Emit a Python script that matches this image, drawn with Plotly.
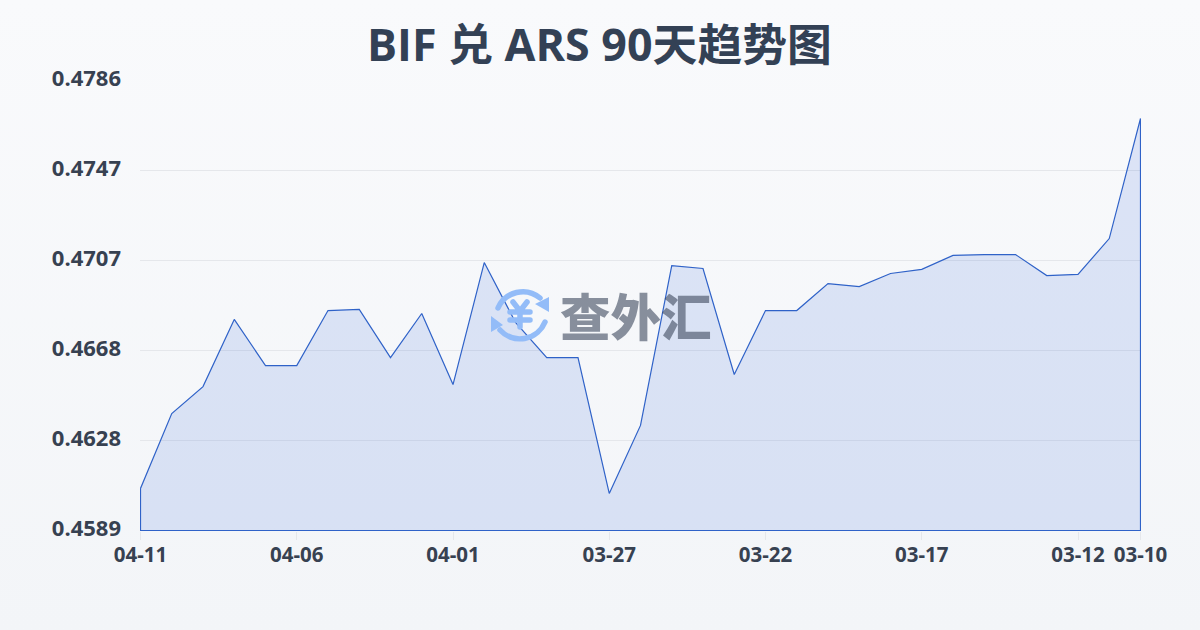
import base64
import plotly.graph_objects as go

dates = ["04-11","04-10","04-09","04-08","04-07","04-06","04-05","04-04","04-03","04-02","04-01",
         "03-31","03-30","03-29","03-28","03-27","03-26","03-25","03-24","03-23","03-22","03-21",
         "03-20","03-19","03-18","03-17","03-16","03-15","03-14","03-13","03-12","03-11","03-10"]
rates = [0.46074,0.46402,0.46520,0.46814,0.46612,0.46612,0.46853,0.46858,0.46647,0.46840,0.46529,
         0.47063,0.46801,0.46647,0.46647,0.46052,0.46350,0.47050,0.47037,0.46573,0.46853,0.46853,
         0.46971,0.46958,0.47015,0.47033,0.47094,0.47098,0.47098,0.47006,0.47011,0.47168,0.47694]
x_ticks = ["04-11","04-06","04-01","03-27","03-22","03-17","03-12","03-10"]
y_ticks = [0.4589,0.46284,0.46678,0.47072,0.47466,0.4786]
y_labels = ["0.4589","0.4628","0.4668","0.4707","0.4747","0.4786"]
title = "BIF 兑 ARS 90天趋势图"
watermark = "查外汇"

FONT = "'Open Sans','Noto Sans CJK SC',sans-serif"
INK = "#374151"
LINE = "#2f62c8"

bg_svg = ('<svg xmlns="http://www.w3.org/2000/svg" width="1200" height="630">'
          '<defs><linearGradient id="g" x1="0" y1="0" x2="0" y2="1">'
          '<stop offset="0" stop-color="#f9fafc"/><stop offset="1" stop-color="#f3f5f8"/>'
          '</linearGradient></defs><rect width="1200" height="630" fill="url(#g)"/></svg>')
logo_svg = ('<svg xmlns="http://www.w3.org/2000/svg" width="60" height="60" viewBox="0 0 60 60">'
            '<g fill="none" stroke="#93bcf8" stroke-width="5.5" stroke-linecap="round">'
            '<path d="M8 23 A27 27 0 0 1 50 13"/><path d="M55 37 A27 27 0 0 1 10 45"/>'
            '<path d="M23 17 L30 26 L37 17 M30 26 V42 M20 27 H40 M20 35 H40"/></g>'
            '<path d="M59 12 V27 L45 19 Z M1 31 V47 L13 40 Z" fill="#93bcf8"/></svg>')

def uri(s):
    return "data:image/svg+xml;base64," + base64.b64encode(s.encode()).decode()

fig = go.Figure()
fig.add_trace(go.Scatter(
    x=dates + [dates[-1], dates[0], dates[0]],
    y=rates + [y_ticks[0], y_ticks[0], rates[0]],
    mode="lines", fill="toself", fillcolor="rgba(47,98,220,0.14)",
    line=dict(color=LINE, width=1.2), hoverinfo="skip", cliponaxis=False, showlegend=False))

fig.update_layout(
    width=1200, height=630, autosize=False,
    margin=dict(l=140, r=59, t=80, b=99, autoexpand=False),
    paper_bgcolor="#f6f7fa", plot_bgcolor="rgba(0,0,0,0)",
    font=dict(family=FONT, color=INK),
    xaxis=dict(type="category", categoryorder="array", categoryarray=dates, range=[-0.016, 32.016],
               tickmode="array", tickvals=x_ticks, ticktext=x_ticks, showgrid=False,
               ticks="outside", ticklen=8, tickwidth=1, tickcolor="#e5e7eb",
               tickangle=0, showline=False, zeroline=False, ticklabelstandoff=-3,
               tickfont=dict(size=20.5, color=INK, weight="bold", family=FONT)),
    yaxis=dict(range=[y_ticks[0] - 0.0000219, y_ticks[-1] + 0.0000219], tickmode="array",
               tickvals=y_ticks, ticktext=y_labels,
               showgrid=True, gridcolor="#e5e7eb", gridwidth=1, zeroline=False, showline=False,
               ticks="", ticklabelstandoff=18, ticklabelshift=-2,
               tickfont=dict(size=22, color=INK, weight="bold", family=FONT)),
    images=[
        dict(source=uri(bg_svg), xref="paper", yref="paper", x=-140/1001, y=1+80/451,
             sizex=1200/1001, sizey=630/451, xanchor="left", yanchor="top", sizing="stretch", layer="below"),
        dict(source=uri(logo_svg), xref="paper", yref="paper", x=(490-140)/1001, y=1-(285-80)/451,
             sizex=60/1001, sizey=60/451, xanchor="left", yanchor="top", sizing="stretch", layer="above"),
    ],
    annotations=[
        dict(text=title, xref="paper", yref="paper", x=(599-140)/1001, y=1+36/451, xanchor="center", yanchor="middle",
             showarrow=False, font=dict(size=44.8, color="#334155", weight="bold", family=FONT)),
        dict(text=watermark, xref="paper", yref="paper", x=(636-140)/1001, y=1-(314-80)/451,
             xanchor="center", yanchor="middle", showarrow=False, opacity=0.6,
             font=dict(size=50.5, color="#3f4a5f", weight=900, family="'Noto Sans CJK SC',sans-serif")),
    ],
)
fig.write_html("out.html", config=dict(displayModeBar=False),
               post_script="document.body.style.margin='0';document.body.style.overflow='hidden';")
